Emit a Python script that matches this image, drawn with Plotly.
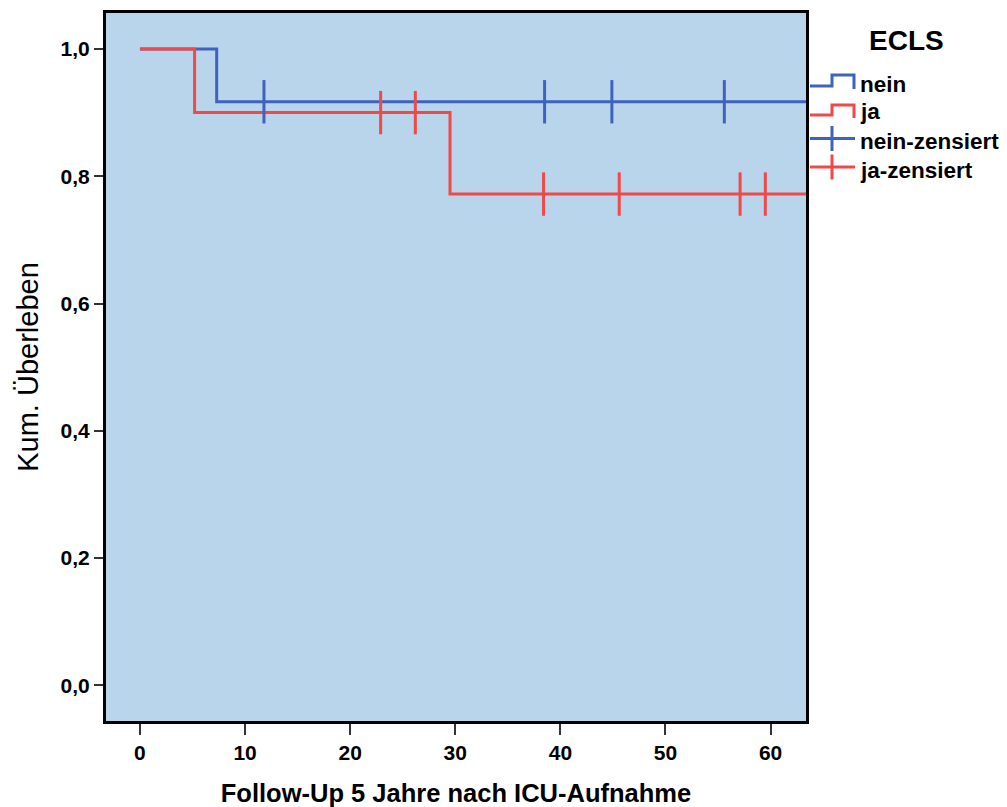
import plotly.graph_objects as go

# ---- data ----
groups = ["nein", "ja"]
nein_times = [0, 7.3, 65]
nein_surv = [1.0, 0.917, 0.917]
nein_cens_times = [11.8, 38.5, 44.9, 55.6]
nein_cens_surv = [0.917, 0.917, 0.917, 0.917]

ja_times = [0, 5.2, 29.5, 65]
ja_surv = [1.0, 0.9, 0.772, 0.772]
ja_cens_times = [22.9, 26.2, 38.4, 45.6, 57.1, 59.5]
ja_cens_surv = [0.9, 0.9, 0.772, 0.772, 0.772, 0.772]

x_ticks = [0, 10, 20, 30, 40, 50, 60]
y_ticks = [0.0, 0.2, 0.4, 0.6, 0.8, 1.0]

BLUE = "#3F63BD"
RED = "#F24848"
BG = "#B9D5EC"
FONT = "Liberation Sans, Arial, sans-serif"

W, H = 1007, 807
L, R, T, B = 106, 201, 13, 86
PW, PH = W - L - R, H - T - B


def px(x):
    return (x - L) / PW


def py(y):
    return (H - B - y) / PH


fig = go.Figure()
for t, s, c in [(nein_times, nein_surv, BLUE), (ja_times, ja_surv, RED)]:
    fig.add_trace(go.Scatter(x=t, y=s, mode="lines", line=dict(color=c, width=3, shape="hv"),
                             showlegend=False, hoverinfo="skip"))
for t, s, c in [(nein_cens_times, nein_cens_surv, BLUE), (ja_cens_times, ja_cens_surv, RED)]:
    fig.add_trace(go.Scatter(x=t, y=s, mode="markers",
                             marker=dict(symbol="line-ns", size=31, color=c,
                                         line=dict(color=c, width=3)),
                             showlegend=False, hoverinfo="skip"))

# ---- manual legend (SPSS style) ----
shapes = []
ann = []
ann.append(dict(text="<b>ECLS</b>", x=px(906), y=py(41), xref="paper", yref="paper",
                showarrow=False, font=dict(size=28, color="black", family=FONT),
                xanchor="center", yanchor="middle"))
legend_rows = [
    ("nein", BLUE, 86, 75, 89, 84),
    ("ja", RED, 115, 105, 118, 112),
]
for name, col, ylow, yhigh, yend, ytxt in legend_rows:
    path = (f"M {px(810)},{py(ylow)} L {px(832)},{py(ylow)} L {px(832)},{py(yhigh)} "
            f"L {px(854)},{py(yhigh)} L {px(854)},{py(yend)}")
    shapes.append(dict(type="path", path=path, xref="paper", yref="paper",
                       line=dict(color=col, width=3)))
    ann.append(dict(text=f"<b>{name}</b>", x=px(858), y=py(ytxt), xref="paper", yref="paper",
                    showarrow=False, font=dict(size=22.5, color="black", family=FONT),
                    xanchor="left", yanchor="middle"))
cens_rows = [("nein-zensiert", BLUE, 138.5, 141), ("ja-zensiert", RED, 167, 170)]
for name, col, yc, ytxt in cens_rows:
    shapes.append(dict(type="line", x0=px(810), x1=px(855), y0=py(yc), y1=py(yc),
                       xref="paper", yref="paper", line=dict(color=col, width=3)))
    shapes.append(dict(type="line", x0=px(832), x1=px(832), y0=py(yc - 12.5), y1=py(yc + 12.5),
                       xref="paper", yref="paper", line=dict(color=col, width=3)))
    ann.append(dict(text=f"<b>{name}</b>", x=px(858), y=py(ytxt), xref="paper", yref="paper",
                    showarrow=False, font=dict(size=22.5, color="black", family=FONT),
                    xanchor="left", yanchor="middle"))

fig.update_layout(
    width=W, height=H,
    margin=dict(l=L, r=R, t=T, b=B, pad=0, autoexpand=False),
    paper_bgcolor="white",
    plot_bgcolor=BG,
    separators=",.",
    showlegend=False,
    shapes=shapes,
    annotations=ann,
    font=dict(family=FONT, color="black"),
)
fig.update_xaxes(
    range=[-3.23, 63.37], tickvals=x_ticks, ticks="outside", ticklen=11, tickwidth=2,
    tickcolor="#333333", showgrid=False, zeroline=False, automargin=False,
    showline=True, mirror=True, linecolor="black", linewidth=3,
    tickfont=dict(size=21, family=FONT, color="black", weight="bold"),
    title=dict(text="<b>Follow-Up 5 Jahre nach ICU-Aufnahme</b>",
               font=dict(size=25.5, family=FONT, color="black"), standoff=26),
)
fig.update_yaxes(
    range=[-0.056, 1.0565], tickvals=y_ticks, tickformat=".1f", ticks="outside", ticklen=9,
    tickwidth=2, tickcolor="#333333", showgrid=False, zeroline=False, automargin=False,
    showline=True, mirror=True, linecolor="black", linewidth=3,
    tickfont=dict(size=21, family=FONT, color="black", weight="bold"),
    title=dict(text="Kum. Überleben", font=dict(size=29, family=FONT, color="black"), standoff=14),
)

fig.write_html("out.html")
